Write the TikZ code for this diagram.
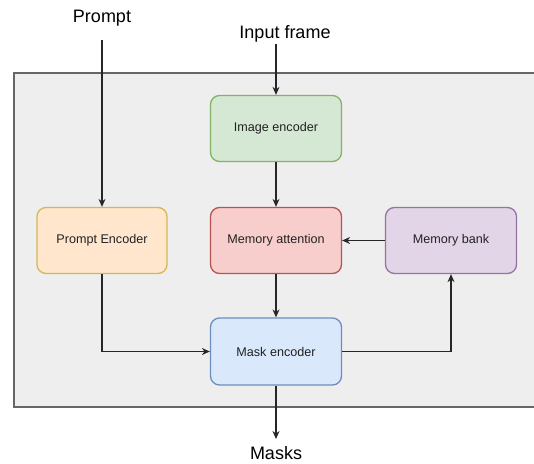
\documentclass[tikz,border=0pt]{standalone}
\usepackage{fontspec}
\setmainfont{Liberation Sans}
\usetikzlibrary{arrows.meta}
\definecolor{greenfill}{HTML}{D5E8D4}\definecolor{greenline}{HTML}{82B366}
\definecolor{orangefill}{HTML}{FFE6CC}\definecolor{orangeline}{HTML}{D6B656}
\definecolor{redfill}{HTML}{F8CECC}\definecolor{redline}{HTML}{B85450}
\definecolor{purplefill}{HTML}{E1D5E7}\definecolor{purpleline}{HTML}{9673A6}
\definecolor{bluefill}{HTML}{DAE8FC}\definecolor{blueline}{HTML}{6C8EBF}
\definecolor{panelfill}{HTML}{EEEEEE}\definecolor{panelline}{HTML}{666666}
\definecolor{textgray}{HTML}{222222}
\begin{document}
\begin{tikzpicture}[x=1pt,y=-1pt,
  block/.style={draw, line width=1.3pt, rounded corners=9pt, minimum width=131pt,
    minimum height=66pt, font=\fontsize{12.6}{15}\selectfont, text=textgray, inner sep=0pt},
  outlabel/.style={font=\fontsize{18}{21}\selectfont, inner sep=0pt},
  link/.style={draw=black!85, line width=1.1pt, -{Stealth[length=8pt,width=7pt]}},
  plain/.style={draw=black!85, line width=1.1pt}]
\useasboundingbox (0,0) rectangle (534,463);
% background panel, running past the right edge
\draw[fill=panelfill, draw=panelline, line width=1.1pt] (14,73) rectangle (545,407);
% blocks
\node[block, fill=greenfill, draw=greenline] (img) at (276,128.5) {Image encoder};
\node[block, fill=orangefill, draw=orangeline, minimum width=130pt] (pe) at (102,240.5) {Prompt Encoder};
\node[block, fill=redfill, draw=redline] (ma) at (276,240.5) {Memory attention};
\node[block, fill=purplefill, draw=purpleline] (mb) at (451,240.5) {Memory bank};
\node[block, fill=bluefill, draw=blueline, minimum height=67pt] (me) at (276,351.5) {Mask encoder};
% outer labels
\node[outlabel] (prompt) at (102,18) {Prompt};
\node[outlabel] (frame) at (285,34) {Input frame};
\node[outlabel] (masks) at (276,453) {Masks};
\coordinate (promptend) at (102,40);
\coordinate (frameend) at (276,44);
\coordinate (maskend) at (276,439);
% connectors
\path[link] (promptend) -- (pe.north);
\path[link] (frameend) -- (img.north);
\path[link] (img.south) -- (ma.north);
\path[link] (mb.west) -- (ma.east);
\path[link] (ma.south) -- (me.north);
\path[link] (pe.south) |- (me.west);
\path[link] (me.east) -| (mb.south);
\path[link] (me.south) -- (maskend);
\end{tikzpicture}
\end{document}
